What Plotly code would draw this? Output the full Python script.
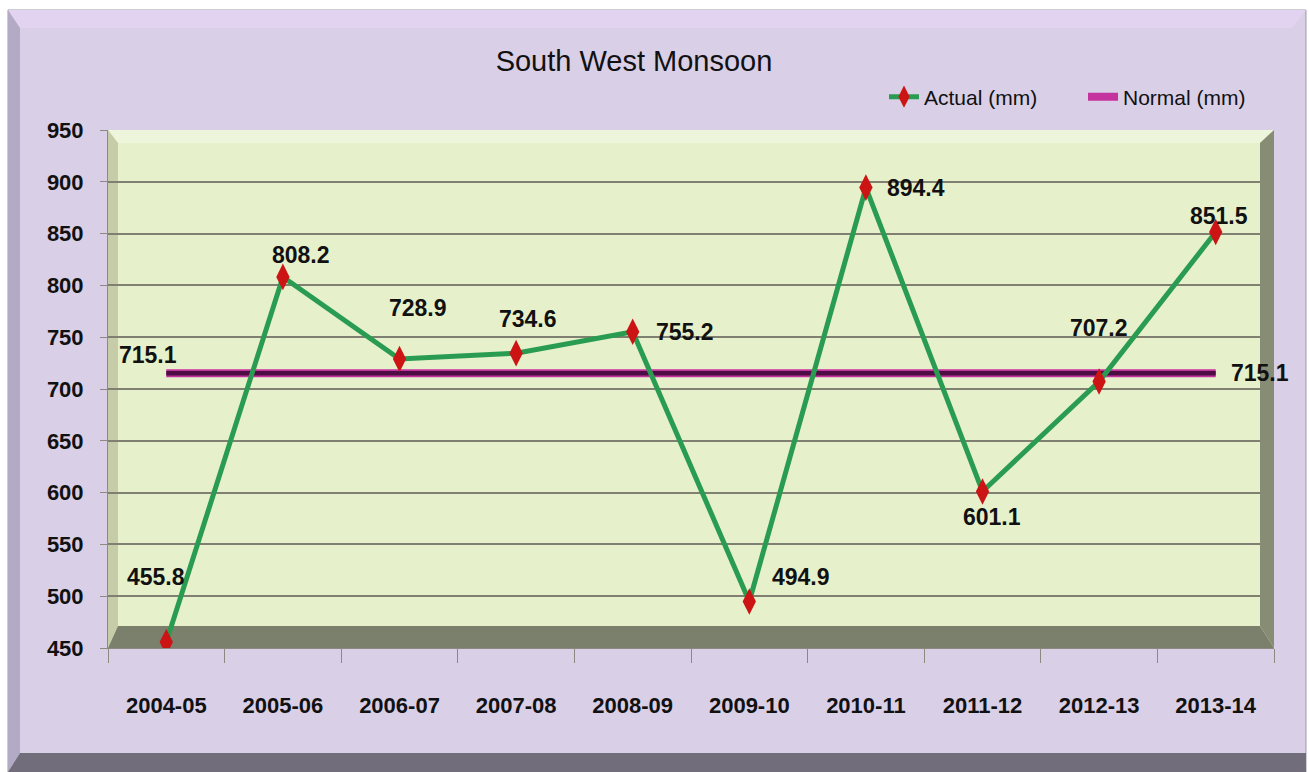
import plotly.graph_objects as go

# ---------------- data ----------------
years = ["2004-05", "2005-06", "2006-07", "2007-08", "2008-09",
         "2009-10", "2010-11", "2011-12", "2012-13", "2013-14"]
actual_mm = [455.8, 808.2, 728.9, 734.6, 755.2, 494.9, 894.4, 601.1, 707.2, 851.5]
normal_mm = [715.1, 715.1, 715.1, 715.1, 715.1, 715.1, 715.1, 715.1, 715.1, 715.1]
y_ticks = [450, 500, 550, 600, 650, 700, 750, 800, 850, 900, 950]

# label offsets in screen pixels (dx right, dy down) -- styling only
actual_label_offsets = [(-10, -65), (18, -22), (18, -51), (12, -34), (52, 0),
                        (52, -24), (50, 0), (9, 26), (0, -54), (3, -16)]

FONT = "Liberation Sans, Arial, sans-serif"
W, H = 1309, 772
L, R, T, B = 108, 1274, 130, 648  # plot area pixel box


def px(x):
    return (x - L) / (R - L)


def py(y):
    return (B - y) / (B - T)


def poly(points, fill, layer="below", line=None):
    d = "M " + " L ".join(f"{px(a):.5f},{py(b):.5f}" for a, b in points) + " Z"
    return dict(type="path", xref="paper", yref="paper", path=d,
                fillcolor=fill, line=line or dict(width=0), layer=layer)


fig = go.Figure()

# Normal line: pink halo + dark core
fig.add_trace(go.Scatter(x=years, y=normal_mm, mode="lines", name="Normal (mm)",
                         line=dict(color="#c4339e", width=8), hoverinfo="skip",
                         showlegend=True, legendrank=2))
fig.add_trace(go.Scatter(x=years, y=normal_mm, mode="lines", name="Normal core",
                         line=dict(color="#4e0c45", width=4.5), showlegend=False))
# Actual
fig.add_trace(go.Scatter(x=years, y=actual_mm, mode="lines+markers", name="Actual (mm)",
                         line=dict(color="#2a9c52", width=5),
                         marker=dict(symbol="diamond-tall", size=19, color="#cc1414",
                                     line=dict(width=0)),
                         legendrank=1))

LABEL_FONT = dict(family=FONT, size=23, color="#111111", weight="bold")
annotations = []
for yr, v, (dx, dy) in zip(years, actual_mm, actual_label_offsets):
    annotations.append(dict(x=yr, y=v, xref="x", yref="y", text=f"{v:.1f}",
                            showarrow=False, xshift=dx, yshift=-dy, font=LABEL_FONT))
annotations.append(dict(x=years[0], y=normal_mm[0], xref="x", yref="y",
                        text=f"{normal_mm[0]:.1f}", showarrow=False, xshift=-18, yshift=18,
                        font=LABEL_FONT))
annotations.append(dict(x=years[-1], y=normal_mm[-1], xref="x", yref="y",
                        text=f"{normal_mm[-1]:.1f}", showarrow=False, xshift=44, yshift=0,
                        font=LABEL_FONT))

shapes = [
    # outer frame
    poly([(8, 10), (1306, 10), (1306, 772), (8, 772)], "#d9cfe7",
         line=dict(color="#9e98a8", width=1)),
    poly([(8, 10), (1306, 10), (1292, 28), (20, 28)], "#e2d4f1"),
    poly([(8, 10), (20, 28), (20, 753), (8, 772)], "#b3aac5"),
    poly([(8, 772), (20, 753), (1306, 753), (1306, 772)], "#716d7b"),
    # 3D plot box
    poly([(L, T), (R, T), (R, B), (L, B)], "#e6f0cb"),
    poly([(L, T), (R, T), (1260, 143), (118, 143)], "#edf6da"),
    poly([(L, T), (118, 143), (118, 626), (L, B)], "#c5cca7"),
    poly([(L, B), (118, 626), (1260, 626), (R, B)], "#7b806c"),
    poly([(1260, 143), (R, T), (R, B), (1260, 626)], "#878c74", layer="above"),
]

fig.update_layout(
    width=W, height=H,
    margin=dict(l=L, r=W - R, t=T, b=H - B, pad=0),
    paper_bgcolor="white",
    plot_bgcolor="rgba(0,0,0,0)",
    title=dict(text="South West Monsoon", x=634 / W, xanchor="center",
               y=1 - 61 / H, yanchor="middle",
               font=dict(family=FONT, size=29, color="#111111")),
    legend=dict(orientation="h", x=px(884), xanchor="left", y=py(97), yanchor="middle",
                bgcolor="rgba(0,0,0,0)", font=dict(family=FONT, size=21, color="#111111"),
                entrywidth=154, traceorder="normal"),
    shapes=shapes,
    annotations=annotations,
    showlegend=True,
)

TICK_FONT = dict(family=FONT, size=22, color="#111111", weight="bold")
fig.update_xaxes(type="category", categoryorder="array", categoryarray=years,
                 range=[-0.5, 9.5], showgrid=False, showline=True, linecolor="#8a8a80",
                 linewidth=1, ticks="outside", ticklen=14, tickcolor="#8a8a80",
                 tickson="boundaries", ticklabelstandoff=38, tickfont=TICK_FONT,
                 zeroline=False)
fig.update_yaxes(range=[450, 950], tickvals=y_ticks, showgrid=True, gridcolor="#7f8072",
                 gridwidth=1.5, showline=True, linecolor="#8a8a80", linewidth=1,
                 ticks="outside", ticklen=7, tickcolor="#8a8a80", ticklabelstandoff=12,
                 tickfont=TICK_FONT, zeroline=False)

fig.write_html("out.html", post_script="document.body.style.margin='0';",
               config={"displayModeBar": False})
